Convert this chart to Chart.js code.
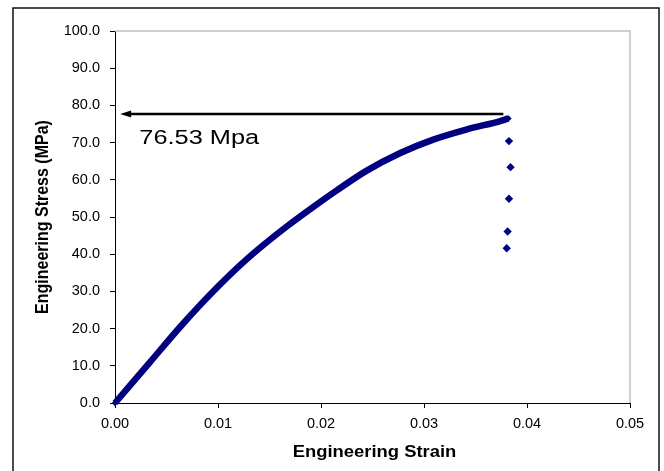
<!DOCTYPE html>
<html><head><meta charset="utf-8">
<script src="https://cdn.jsdelivr.net/npm/chart.js@4.4.0/dist/chart.umd.min.js"></script>
<style>html,body{margin:0;padding:0;background:#fff;}#wrap{width:664px;height:471px;}</style>
</head><body><div id="wrap"><canvas id="c" width="664" height="471"></canvas></div>
<script>
// ---- data ----
const curveStrain = [0.0000, 0.0034, 0.0066, 0.0100, 0.0131, 0.0167, 0.0200, 0.0215, 0.0244, 0.0277, 0.0309, 0.0341, 0.0374, 0.0382];
const curveStress = [0.0, 11.0, 21.3, 31.3, 39.4, 47.5, 54.2, 57.1, 62.4, 67.2, 70.8, 73.5, 75.8, 76.5];
const dropStrain = [0.03825, 0.03840, 0.03825, 0.03812, 0.03803];
const dropStress = [70.4, 63.4, 54.9, 46.1, 41.6];
const xTickValues = [0.00, 0.01, 0.02, 0.03, 0.04, 0.05];
const yTickValues = [0, 10, 20, 30, 40, 50, 60, 70, 80, 90, 100];
const xTitle = 'Engineering Strain';
const yTitle = 'Engineering Stress (MPa)';
const peakLabel = '76.53 Mpa';
const arrowStrain = [0.0377, 0.0005];
const arrowStress = [77.7, 77.7];
const peakLabelStrain = [0.00236];
const peakLabelStress = [69.7];

const FONT = "'Liberation Sans', Arial, sans-serif";
const navy = '#000080';

const curvePts = curveStrain.map((x, i) => ({x, y: curveStress[i]}));
const dropPts = dropStrain.map((x, i) => ({x, y: dropStress[i]}));

const decor = {
  id: 'decor',
  beforeDatasetsDraw(chart) {
    const {ctx, chartArea: a} = chart;
    ctx.save();
    ctx.strokeStyle = '#c0c0c0';
    ctx.lineWidth = 1.5;
    ctx.beginPath();
    ctx.moveTo(a.left, a.top);
    ctx.lineTo(a.right, a.top);
    ctx.lineTo(a.right, a.bottom);
    ctx.stroke();
    ctx.restore();
  },
  afterDraw(chart) {
    const {ctx, chartArea: a, scales} = chart;
    const xs = scales.x, ys = scales.y;
    ctx.save();
    // outer frame
    ctx.strokeStyle = '#111';
    ctx.lineWidth = 1.5;
    ctx.strokeRect(13, 8, 646, 470);
    // arrow
    const x1 = xs.getPixelForValue(arrowStrain[0]);
    const x2 = xs.getPixelForValue(arrowStrain[1]);
    const y1 = ys.getPixelForValue(arrowStress[0]);
    ctx.strokeStyle = '#000';
    ctx.fillStyle = '#000';
    ctx.lineWidth = 2.5;
    ctx.beginPath();
    ctx.moveTo(x1, y1);
    ctx.lineTo(x2 + 8, y1);
    ctx.stroke();
    ctx.beginPath();
    ctx.moveTo(x2, y1);
    ctx.lineTo(x2 + 11, y1 - 3.5);
    ctx.lineTo(x2 + 11, y1 + 3.5);
    ctx.closePath();
    ctx.fill();
    // peak label
    const lx = xs.getPixelForValue(peakLabelStrain[0]);
    const ly = ys.getPixelForValue(peakLabelStress[0]);
    ctx.save();
    ctx.translate(lx, ly);
    ctx.scale(1.3, 1);
    ctx.font = '19.5px ' + FONT;
    ctx.textAlign = 'left';
    ctx.textBaseline = 'alphabetic';
    ctx.fillText(peakLabel, 0, 0);
    ctx.restore();
    // x title
    ctx.save();
    ctx.translate((a.left + a.right) / 2 + 2, 456.5);
    ctx.scale(1.15, 1);
    ctx.font = 'bold 16px ' + FONT;
    ctx.textAlign = 'center';
    ctx.textBaseline = 'alphabetic';
    ctx.fillText(xTitle, 0, 0);
    ctx.restore();
    // y title
    ctx.save();
    ctx.translate(48.3, (a.top + a.bottom) / 2);
    ctx.scale(1.15, 1);
    ctx.rotate(-Math.PI / 2);
    ctx.font = 'bold 16px ' + FONT;
    ctx.textAlign = 'center';
    ctx.textBaseline = 'alphabetic';
    ctx.fillText(yTitle, 0, 0);
    ctx.restore();
    ctx.restore();
  }
};

new Chart(document.getElementById('c'), {
  type: 'scatter',
  data: {
    datasets: [
      {
        data: curvePts,
        showLine: true,
        borderColor: navy,
        backgroundColor: navy,
        borderWidth: 6.5,
        cubicInterpolationMode: 'monotone',
        pointStyle: 'rectRot',
        pointRadius: 3.2,
        pointBorderWidth: 0,
        clip: false
      },
      {
        data: dropPts,
        showLine: false,
        borderColor: navy,
        backgroundColor: navy,
        pointStyle: 'rectRot',
        pointRadius: 4.2,
        pointBorderWidth: 0,
        clip: false
      }
    ]
  },
  options: {
    responsive: false,
    animation: false,
    devicePixelRatio: 1,
    layout: {padding: {top: 31, right: 34, left: 0, bottom: 0}},
    plugins: {legend: {display: false}, tooltip: {enabled: false}},
    scales: {
      x: {
        type: 'linear',
        min: 0, max: 0.05,
        afterFit(s) { s.height = 68; },
        afterBuildTicks(s) { s.ticks = xTickValues.map(v => ({value: v})); },
        grid: {drawOnChartArea: false, drawTicks: true, tickLength: 5, color: '#000', tickColor: '#000'},
        border: {color: '#000', width: 1},
        ticks: {
          padding: 7,
          color: '#000',
          font: {family: FONT, size: 14.5},
          maxRotation: 0,
          callback: v => Number(v).toFixed(2)
        }
      },
      y: {
        type: 'linear',
        min: 0, max: 100,
        afterFit(s) { s.width = 115; },
        afterBuildTicks(s) { s.ticks = yTickValues.map(v => ({value: v})); },
        grid: {drawOnChartArea: false, drawTicks: true, tickLength: 5, color: '#000', tickColor: '#000'},
        border: {color: '#000', width: 1},
        ticks: {
          padding: 10,
          color: '#000',
          font: {family: FONT, size: 14.5},
          callback: v => Number(v).toFixed(1)
        }
      }
    }
  },
  plugins: [decor]
});
</script>
</body></html>
